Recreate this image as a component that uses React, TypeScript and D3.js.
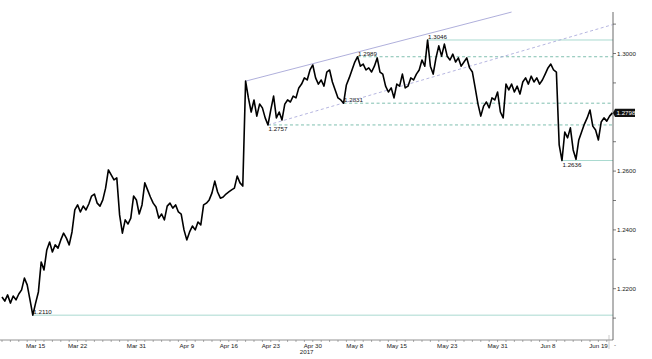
import * as d3 from "d3";

const W = 652;
const H = 359;

// GBPUSD, three samples per trading day, from Thu 9 Mar 2017
const prices = [
  1.2172, 1.2158, 1.2179, 1.2151, 1.2175, 1.2162, 1.2182, 1.2196, 1.2236, 1.2213,
  1.2162, 1.2110, 1.2151, 1.2189, 1.2291, 1.2264, 1.2332, 1.2359, 1.2325, 1.2349,
  1.2338, 1.2366, 1.2389, 1.2372, 1.2349, 1.2393, 1.2468, 1.2485, 1.2461, 1.2481,
  1.2468, 1.2488, 1.2515, 1.2522, 1.2491, 1.2481, 1.2502, 1.2542, 1.2604, 1.2587,
  1.2570, 1.2577, 1.2451, 1.2389, 1.2434, 1.2420, 1.2440, 1.2515, 1.2502, 1.2454,
  1.2485, 1.2560, 1.2536, 1.2512, 1.2491, 1.2478, 1.2440, 1.2454, 1.2434, 1.2481,
  1.2491, 1.2474, 1.2485, 1.2461, 1.2454, 1.2400, 1.2366, 1.2393, 1.2413, 1.2400,
  1.2427, 1.2417, 1.2485, 1.2491, 1.2502, 1.2526, 1.2566, 1.2529, 1.2508, 1.2512,
  1.2522, 1.2529, 1.2536, 1.2542, 1.2583, 1.2560, 1.2549, 1.2906, 1.2849, 1.2801,
  1.2842, 1.2787, 1.2828, 1.2815, 1.2781, 1.2757, 1.2808, 1.2855, 1.2781, 1.2801,
  1.2774, 1.2828, 1.2842, 1.2835, 1.2855, 1.2849, 1.2883, 1.2896, 1.2917, 1.2910,
  1.2944, 1.2961, 1.2917, 1.2896, 1.2910, 1.2889, 1.2937, 1.2944, 1.2903, 1.2876,
  1.2849, 1.2842, 1.2831, 1.2893, 1.2917, 1.2944, 1.2971, 1.2989, 1.2957, 1.2964,
  1.2944, 1.2951, 1.2937, 1.2957, 1.2985, 1.2937, 1.2930, 1.2889, 1.2869, 1.2883,
  1.2849, 1.2896, 1.2889, 1.2930, 1.2883, 1.2889, 1.2917, 1.2910, 1.2930, 1.2944,
  1.2978, 1.2957, 1.3046, 1.2957, 1.2930, 1.2985, 1.3026, 1.2991, 1.3032, 1.2991,
  1.2978, 1.2998, 1.2971, 1.2985, 1.2957, 1.2971, 1.2985, 1.2951, 1.2937, 1.2883,
  1.2828, 1.2787, 1.2821, 1.2835, 1.2815, 1.2849, 1.2842, 1.2869, 1.2801, 1.2781,
  1.2896, 1.2876, 1.2896, 1.2869, 1.2889, 1.2862, 1.2903, 1.2917, 1.2896, 1.2923,
  1.2903, 1.2917, 1.2896, 1.2910, 1.2930, 1.2951, 1.2964, 1.2944, 1.2937, 1.2689,
  1.2636, 1.2733, 1.2713, 1.2747, 1.2672, 1.2640, 1.2706, 1.2733, 1.2760, 1.2781,
  1.2808, 1.2753, 1.2740, 1.2706, 1.2767, 1.2781, 1.2770, 1.2787, 1.2798,
];
const SAMPLES_PER_DAY = 3;
const START = new Date(2017, 2, 9);

const xTickDates = [
  "2017-03-15", "2017-03-22", "2017-03-31", "2017-04-09", "2017-04-16", "2017-04-23", "2017-04-30",
  "2017-05-08", "2017-05-15", "2017-05-23", "2017-05-31", "2017-06-08", "2017-06-19",
];
const xTickLabels = [
  "Mar 15", "Mar 22", "Mar 31", "Apr 9", "Apr 16", "Apr 23", "Apr 30",
  "May 8", "May 15", "May 23", "May 31", "Jun 8", "Jun 19",
];

const yTicks = [1.22, 1.24, 1.26, 1.28, 1.3];
const yMinorTicks = [1.21, 1.23, 1.25, 1.27, 1.29, 1.31];

// support / resistance levels: value, sample where it starts, solid or dashed, label side
const levelValues = [1.3046, 1.2989, 1.2831, 1.2757, 1.2636, 1.211];
const levelStart = [152, 127, 122, 95, 200, 11];
const levelDashed = [false, true, true, true, false, false];
const levelLabelBelow = [false, false, false, true, true, false];

// channel lines: [sample, price] pairs
const upperChannel = [[87, 1.2906], [182, 1.3141]];
const lowerChannel = [[95, 1.2757], [218, 1.3098]];

const parse = d3.timeParse("%Y-%m-%d");
const tradingIndex = (d: Date) =>
  d3.timeDay.range(START, d).filter((t) => t.getDay() % 6 !== 0).length;

export default function App() {
  const x = d3.scaleLinear().domain([0, 72.74]).range([2, 613]);
  const y = d3.scaleLinear().domain([1.20255, 1.3148]).range([340, 10]);
  const xs = (i: number) => x(i / SAMPLES_PER_DAY);

  const line = d3
    .line<number>()
    .x((_, i) => xs(i))
    .y((d) => y(d));

  const last = prices[prices.length - 1];
  const font = "'Liberation Sans', Arial, sans-serif";
  const days = d3.range(0, 73);
  const axisRight = x.range()[1];

  return (
    <svg
      width={W}
      height={H}
      style={{ position: "absolute", left: 0, top: 0, background: "#fff" }}
      fontFamily={font}
      fontSize={6.2}
    >
      {/* levels */}
      {levelValues.map((v, k) => (
        <g key={"lv" + k}>
          <line
            x1={xs(levelStart[k])}
            x2={axisRight}
            y1={y(v)}
            y2={y(v)}
            stroke={levelDashed[k] ? "#5fae9c" : "#a9dad0"}
            strokeWidth={levelDashed[k] ? 0.8 : 1}
            strokeDasharray={levelDashed[k] ? "3,2.5" : undefined}
          />
          <text
            x={xs(levelStart[k]) + 0.5}
            y={levelLabelBelow[k] ? y(v) + 6.5 : y(v) - 1}
            fill="#111"
          >
            {d3.format(".4f")(v)}
          </text>
        </g>
      ))}

      {/* channel */}
      <line
        x1={xs(upperChannel[0][0])}
        y1={y(upperChannel[0][1])}
        x2={xs(upperChannel[1][0])}
        y2={y(upperChannel[1][1])}
        stroke="#9a9ad2"
        strokeWidth={0.8}
      />
      <line
        x1={xs(lowerChannel[0][0])}
        y1={y(lowerChannel[0][1])}
        x2={xs(lowerChannel[1][0])}
        y2={y(lowerChannel[1][1])}
        stroke="#a3a3d8"
        strokeWidth={0.8}
        strokeDasharray="3,2.5"
      />

      {/* price */}
      <path d={line(prices) ?? ""} fill="none" stroke="#000" strokeWidth={1.6} strokeLinejoin="round" />

      {/* bottom axis */}
      <line x1={0} x2={axisRight} y1={340} y2={340} stroke="#777" strokeWidth={0.8} />
      {days.map((d) => (
        <line key={"d" + d} x1={x(d)} x2={x(d)} y1={340} y2={342} stroke="#777" strokeWidth={0.6} />
      ))}
      {xTickDates.map((s, k) => {
        const xi = x(tradingIndex(parse(s) as Date));
        const lastTick = k === xTickDates.length - 1;
        return (
          <text
            key={"xt" + k}
            x={lastTick ? xi + 1 : xi}
            y={347.5}
            textAnchor={lastTick ? "end" : "middle"}
            fill="#222"
          >
            {xTickLabels[k]}
          </text>
        );
      })}
      <text x={x(tradingIndex(parse("2017-04-30") as Date)) - 13} y={353.5} fill="#222">
        2017
      </text>
      <line x1={609} x2={609} y1={335} y2={349} stroke="#aaa" strokeWidth={0.6} />

      {/* right axis */}
      <line x1={axisRight} x2={axisRight} y1={12} y2={340} stroke="#444" strokeWidth={0.8} />
      {[...yTicks, ...yMinorTicks].map((v) => (
        <line key={"yt" + v} x1={axisRight} x2={axisRight + 3} y1={y(v)} y2={y(v)} stroke="#444" strokeWidth={0.7} />
      ))}
      {yTicks
        .filter((v) => Math.abs(y(v) - y(last)) > 8)
        .map((v) => (
          <text key={"yl" + v} x={axisRight + 4} y={y(v) + 2.2} fill="#222">
            {d3.format(".4f")(v)}
          </text>
        ))}

      {/* last price tag */}
      <path
        d={`M${axisRight},${y(last)} l2,-4.2 h20 v8.4 h-20 z`}
        fill="#111"
      />
      <text x={axisRight + 3.5} y={y(last) + 2.2} fill="#fff">
        {d3.format(".4f")(last)}
      </text>
      <text x={axisRight + 1} y={347} fill="#444">-</text>
    </svg>
  );
}
